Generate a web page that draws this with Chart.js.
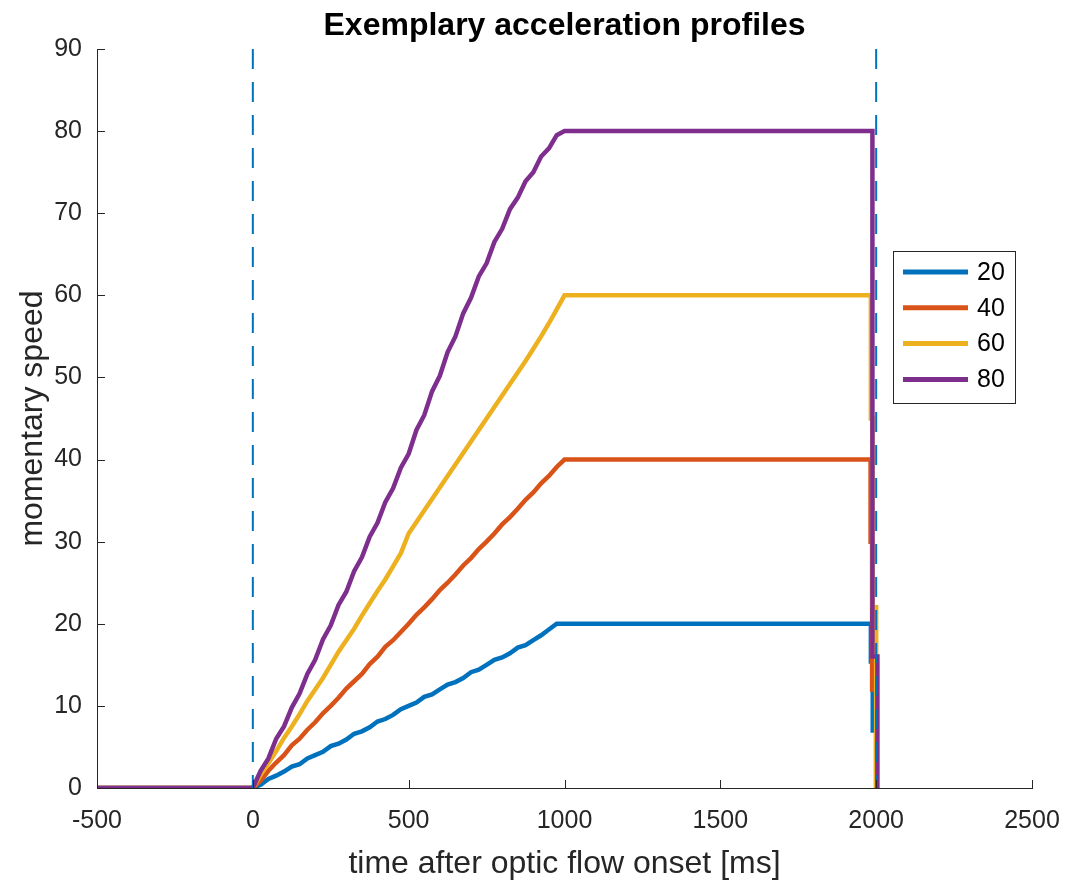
<!DOCTYPE html>
<html>
<head>
<meta charset="utf-8">
<script src="https://cdn.jsdelivr.net/npm/chart.js@4.4.0/dist/chart.umd.min.js"></script>
<style>
  html, body { margin: 0; padding: 0; background: #fff; }
</style>
</head>
<body>
<canvas id="accelChart" width="1070" height="883"></canvas>
<script>
const FONT = "'Liberation Sans', Arial, Helvetica, sans-serif";
const AXIS_COLOR = "#262626";

const seriesLabels = ["20", "40", "60", "80"];
const seriesColors = ["#0072BD", "#D95319", "#EDB120", "#7E2F8E"];

// before onset everything sits at 0
const preTimes = [-500];
const preSpeed = [0];

// ramp, every 25 ms
const rampTimes = [0, 25, 50, 75, 100, 125, 150, 175, 200, 225, 250, 275, 300, 325, 350, 375, 400, 425, 450, 475,
    500, 525, 550, 575, 600, 625, 650, 675, 700, 725, 750, 775, 800, 825, 850, 875, 900, 925, 950, 975, 1000];
const speed20 = [0, 0.4, 1.1, 1.5, 2.0, 2.6, 2.9, 3.6, 4.0, 4.4, 5.1, 5.4, 5.9, 6.6, 6.9, 7.4, 8.1, 8.4, 8.9, 9.6,
    10.0, 10.4, 11.1, 11.4, 12.0, 12.6, 12.9, 13.4, 14.1, 14.4, 15.0, 15.6, 15.9, 16.4, 17.1, 17.4, 18.0, 18.6, 19.3, 20.0, 20.0];
const speed40 = [0, 0.9, 2.1, 3.1, 4.0, 5.2, 6.0, 7.1, 8.0, 9.1, 10.0, 11.0, 12.1, 13.0, 13.9, 15.1, 16.0, 17.2, 18.0, 19.0,
    20.0, 21.1, 22.0, 23.0, 24.1, 25.0, 26.0, 27.1, 28.0, 29.1, 30.0, 31.0, 32.1, 33.0, 34.0, 35.1, 36.0, 37.1, 38.0, 39.1, 40.0];
const speed60 = [0, 1.6, 3.0, 4.5, 6.1, 7.5, 9.0, 10.6, 12.0, 13.4, 15.0, 16.6, 18.0, 19.4, 21.0, 22.5, 24.0, 25.4, 27.0, 28.6,
    31.0, 32.4, 33.8, 35.2, 36.6, 38.0, 39.4, 40.8, 42.2, 43.6, 45.0, 46.4, 47.8, 49.2, 50.6, 52.0, 53.5, 55.0, 56.6, 58.3, 60.0];
const speed80 = [0, 2.1, 3.6, 6.0, 7.5, 9.8, 11.5, 13.9, 15.6, 18.1, 19.8, 22.3, 23.9, 26.4, 28.1, 30.6, 32.3, 34.8, 36.5, 39.0,
    40.7, 43.6, 45.4, 48.3, 50.2, 53.1, 55.0, 57.8, 59.7, 62.3, 63.9, 66.5, 68.1, 70.5, 71.9, 73.9, 75.0, 76.9, 77.9, 79.5, 80.0];

// plateau end and the stepwise drop back to zero around 2000 ms
const tail20Times = [1983, 1983, 1989, 1989, 2000, 2000];
const tail20Speed = [20, 15.4, 15.4, 7, 7, 0];
const tail40Times = [1982, 1982, 1987, 1987, 2000, 2000];
const tail40Speed = [40, 30, 30, 12, 12, 0];
const tail60Times = [1983, 1983, 1988, 1988, 2000, 2000];
const tail60Speed = [60, 45, 45, 22, 22, 0];
const tail80Times = [1988, 1988, 2004, 2004];
const tail80Speed = [80, 16, 16, 0];

// dashed markers at onset / offset
const markerTimes = [0, 2000];

const xTicks = [-500, 0, 500, 1000, 1500, 2000, 2500];
const yTicks = [0, 10, 20, 30, 40, 50, 60, 70, 80, 90];

function toPoints(times, values) {
    return times.map((t, i) => ({ x: t, y: values[i] }));
}

function profile(ramp, tailT, tailV) {
    return [].concat(
        toPoints(preTimes, preSpeed),
        toPoints(rampTimes, ramp),
        toPoints(tailT, tailV)
    );
}

const profiles = [
    profile(speed20, tail20Times, tail20Speed),
    profile(speed40, tail40Times, tail40Speed),
    profile(speed60, tail60Times, tail60Speed),
    profile(speed80, tail80Times, tail80Speed)
];

const datasets = profiles.map((pts, i) => ({
    label: seriesLabels[i],
    data: pts,
    borderColor: seriesColors[i],
    borderWidth: 4.5,
    pointRadius: 0,
    tension: 0,
    fill: false,
    order: 4 - i
}));

markerTimes.forEach(t => {
    datasets.push({
        label: "",
        marker: true,
        data: [{ x: t, y: yTicks[yTicks.length - 1] }, { x: t, y: 0 }],
        borderColor: "#0072BD",
        borderWidth: 2,
        borderDash: [20, 13],
        pointRadius: 0,
        fill: false,
        order: 0
    });
});

const inwardTicks = {
    id: "inwardTicks",
    afterDatasetsDraw(chart) {
        const { ctx, chartArea: a, scales: { x, y } } = chart;
        ctx.save();
        ctx.strokeStyle = AXIS_COLOR;
        ctx.lineWidth = 1;
        ctx.beginPath();
        x.ticks.forEach(t => {
            const px = Math.round(x.getPixelForValue(t.value)) + 0.5;
            ctx.moveTo(px, a.bottom);
            ctx.lineTo(px, a.bottom - 8);
        });
        y.ticks.forEach(t => {
            const py = Math.round(y.getPixelForValue(t.value)) + 0.5;
            ctx.moveTo(a.left, py);
            ctx.lineTo(a.left + 8, py);
        });
        ctx.stroke();
        ctx.restore();
    }
};

// boxed legend sitting inside the axes, like matlab's
const boxLegend = {
    id: "boxLegend",
    afterDraw(chart) {
        const ctx = chart.ctx;
        const items = chart.data.datasets.filter(d => !d.marker);
        const left = 893, top = 251, w = 122, h = 152;
        ctx.save();
        ctx.fillStyle = "#fff";
        ctx.fillRect(left, top, w, h);
        ctx.strokeStyle = AXIS_COLOR;
        ctx.lineWidth = 1;
        ctx.strokeRect(left + 0.5, top + 0.5, w, h);
        ctx.font = "25px " + FONT;
        ctx.textBaseline = "middle";
        ctx.textAlign = "left";
        items.forEach((d, i) => {
            const yy = top + 21 + i * 35.8;
            ctx.strokeStyle = d.borderColor;
            ctx.lineWidth = 5;
            ctx.beginPath();
            ctx.moveTo(903, yy);
            ctx.lineTo(968, yy);
            ctx.stroke();
            ctx.fillStyle = "#000";
            ctx.fillText(d.label, 977, yy + 1);
        });
        ctx.restore();
    }
};

const accelChart = new Chart(document.getElementById("accelChart").getContext("2d"), {
    type: "line",
    data: { datasets: datasets },
    plugins: [inwardTicks, boxLegend],
    options: {
        responsive: false,
        animation: false,
        layout: { padding: { left: 0, right: 38, top: 0, bottom: 0 } },
        plugins: {
            legend: { display: false },
            tooltip: { enabled: false },
            title: {
                display: true,
                text: "Exemplary acceleration profiles",
                fullSize: false,
                color: "#000",
                font: { family: FONT, size: 32, weight: "bold" },
                padding: { top: 7, bottom: 3.6 }
            }
        },
        scales: {
            x: {
                type: "linear",
                min: xTicks[0],
                max: xTicks[xTicks.length - 1],
                afterBuildTicks: s => { s.ticks = xTicks.map(v => ({ value: v })); },
                afterFit: s => {
                    s.height = 95;
                    s.paddingLeft = 0;
                    s.paddingRight = 0;
                },
                grid: { display: false, drawTicks: false },
                border: { display: true, color: AXIS_COLOR, width: 1 },
                ticks: {
                    color: AXIS_COLOR,
                    font: { family: FONT, size: 25 },
                    padding: 18,
                    maxRotation: 0,
                    autoSkip: false,
                    callback: v => String(v)
                },
                title: {
                    display: true,
                    text: "time after optic flow onset [ms]",
                    color: AXIS_COLOR,
                    font: { family: FONT, size: 32 },
                    padding: { top: 0, bottom: 0 }
                }
            },
            y: {
                min: yTicks[0],
                max: yTicks[yTicks.length - 1],
                afterBuildTicks: s => { s.ticks = yTicks.map(v => ({ value: v })); },
                afterFit: s => {
                    s.width = 97;
                    s.paddingTop = 0;
                    s.paddingBottom = 0;
                },
                grid: { display: false, drawTicks: false },
                border: { display: true, color: AXIS_COLOR, width: 1 },
                ticks: {
                    color: AXIS_COLOR,
                    font: { family: FONT, size: 25 },
                    padding: 15,
                    autoSkip: false,
                    callback: v => String(v)
                },
                title: {
                    display: true,
                    text: "momentary speed",
                    color: AXIS_COLOR,
                    font: { family: FONT, size: 32 },
                    padding: { top: 14, bottom: 0 }
                }
            }
        }
    }
});
</script>
</body>
</html>
